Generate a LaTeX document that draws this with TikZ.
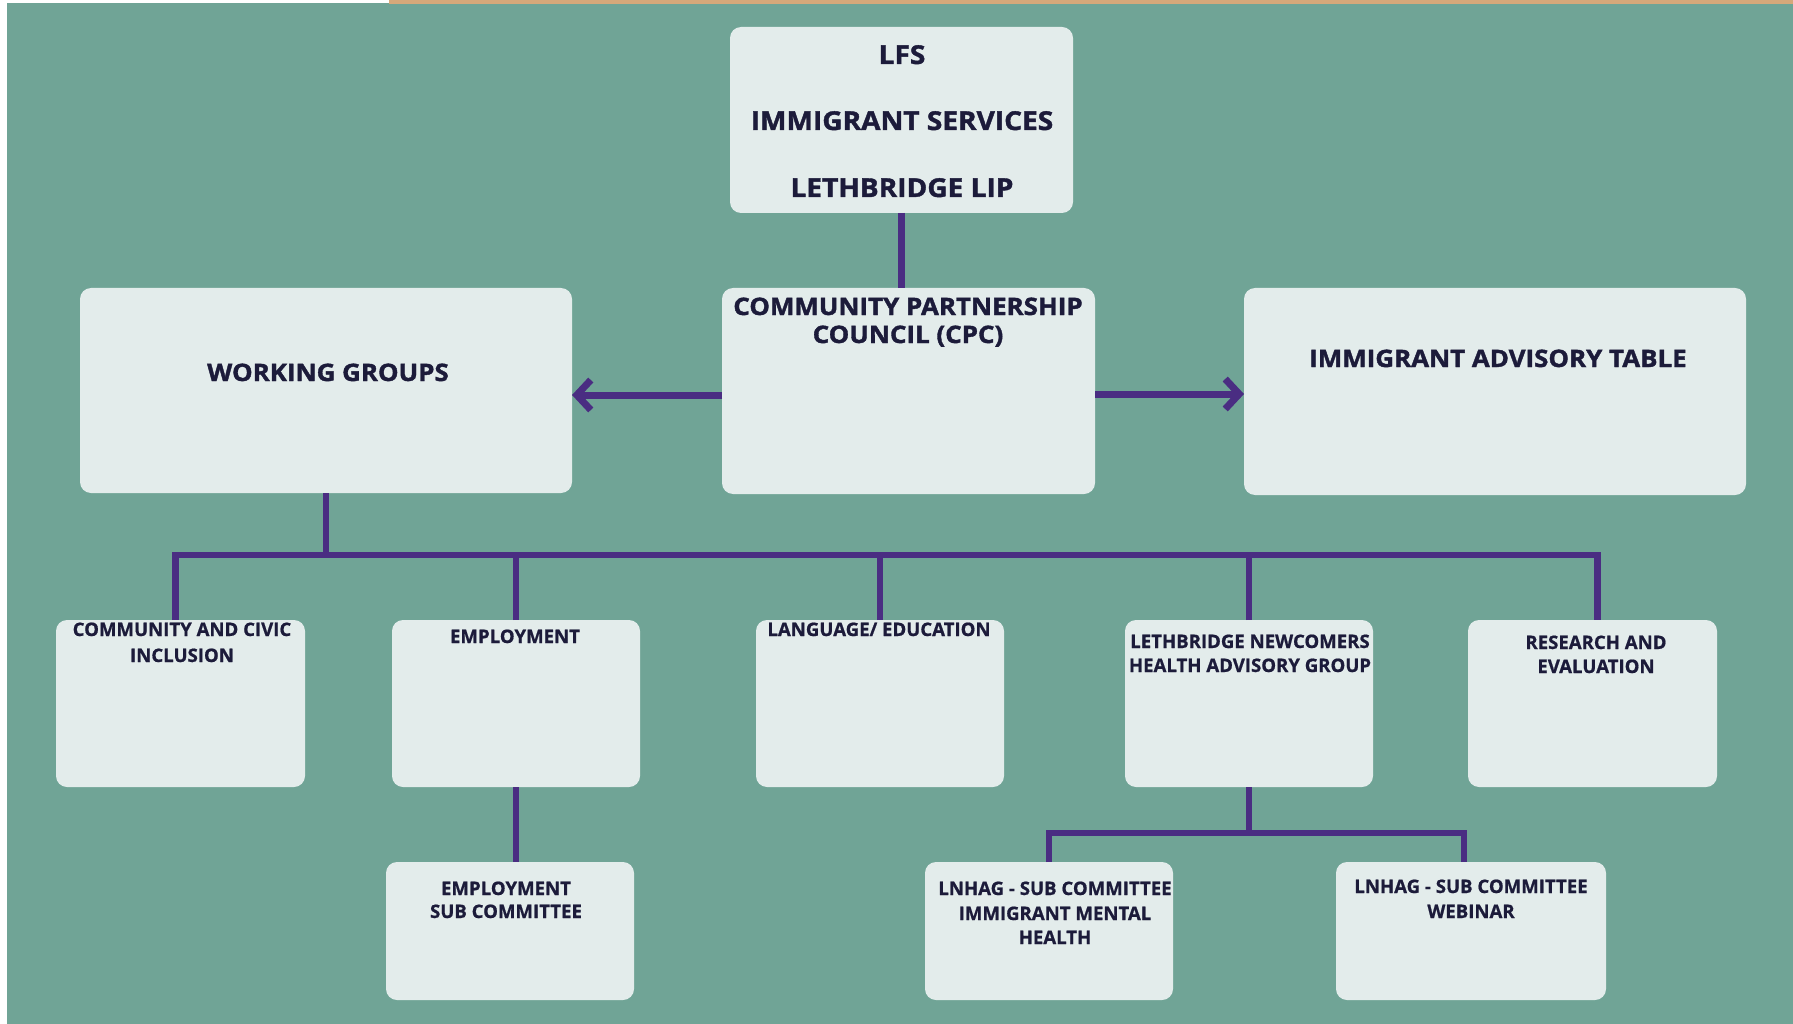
\documentclass[tikz,border=0pt]{standalone}
\usepackage{fontspec}
\setmainfont{Open Sans}
\newfontfamily\headf{Open Sans}[FakeStretch=1.08,FakeBold=1.5]
\newfontfamily\smallf{Open Sans}[FakeBold=0.8]
\usetikzlibrary{arrows.meta}
\definecolor{bggreen}{RGB}{112,164,150}
\definecolor{boxfill}{RGB}{227,236,235}
\definecolor{linepurple}{RGB}{74,45,130}
\definecolor{txtc}{RGB}{28,27,58}
\definecolor{topor}{RGB}{214,168,122}
\begin{document}
\begin{tikzpicture}[x=1pt,y=-1pt,
  box/.style={fill=boxfill, rounded corners=11pt, draw=none, inner sep=0pt, outer sep=0pt, anchor=north west},
  conn/.style={draw=linepurple, line width=6.5pt},
  arr/.style={conn, line width=7pt, -{Straight Barb[length=14pt,width=30pt]}},
  head/.style={font=\headf\bfseries\fontsize{26}{30}\selectfont, text=txtc, inner sep=0pt, anchor=base},
  mid/.style={font=\headf\bfseries\fontsize{24}{28}\selectfont, text=txtc, inner sep=0pt, anchor=base},
  small/.style={font=\smallf\bfseries\fontsize{18.6}{22}\selectfont, text=txtc, inner sep=0pt, anchor=base}]
\useasboundingbox (0,0) rectangle (1793,1024);
\fill[white] (0,0) rectangle (1793,1024);
\fill[bggreen] (7,3) rectangle (1793,1024);
\fill[topor] (389,0) rectangle (1793,4);

% boxes
\node[box, minimum width=343pt, minimum height=186pt] (lfs) at (730,27) {};
\node[box, minimum width=373pt, minimum height=206pt] (cpc) at (722,288) {};
\node[box, minimum width=492pt, minimum height=205pt] (wg) at (80,288) {};
\node[box, minimum width=502pt, minimum height=207pt] (iat) at (1244,288) {};
\node[box, minimum width=249pt, minimum height=167pt] (c1) at (56,620) {};
\node[box, minimum width=248pt, minimum height=167pt] (c2) at (392,620) {};
\node[box, minimum width=248pt, minimum height=167pt] (c3) at (756,620) {};
\node[box, minimum width=248pt, minimum height=167pt] (c4) at (1125,620) {};
\node[box, minimum width=249pt, minimum height=167pt] (c5) at (1468,620) {};
\node[box, minimum width=248pt, minimum height=138pt] (esub) at (386,862) {};
\node[box, minimum width=248pt, minimum height=138pt] (ment) at (925,862) {};
\node[box, minimum width=270pt, minimum height=138pt] (web) at (1336,862) {};

% texts
\node[head] (lfs1) at (902,64) {LFS};
\node[head] (lfs2) at (902,130) {IMMIGRANT SERVICES};
\node[head] (lfs3) at (902,197) {LETHBRIDGE LIP};
\node[mid] (cpc1) at (908,315) {COMMUNITY PARTNERSHIP};
\node[mid] (cpc2) at (908,343) {COUNCIL (CPC)};
\node[mid] (wgt) at (328,381) {WORKING GROUPS};
\node[mid] (iatt) at (1498,367) {IMMIGRANT ADVISORY TABLE};

\node[small] (c1a) at (182,636) {COMMUNITY AND CIVIC};
\node[small] (c1b) at (182,662) {INCLUSION};
\node[small] (c2a) at (515,643) {EMPLOYMENT};
\node[small] (c3a) at (879,636) {LANGUAGE/ EDUCATION};
\node[small] (c4a) at (1250,648) {LETHBRIDGE NEWCOMERS};
\node[small] (c4b) at (1250,672) {HEALTH ADVISORY GROUP};
\node[small] (c5a) at (1596,649) {RESEARCH AND};
\node[small] (c5b) at (1596,673) {EVALUATION};

\node[small] (es1) at (506,895) {EMPLOYMENT};
\node[small] (es2) at (506,918) {SUB COMMITTEE};
\node[small] (me1) at (1055,895) {LNHAG - SUB COMMITTEE};
\node[small] (me2) at (1055,920) {IMMIGRANT MENTAL};
\node[small] (me3) at (1055,944) {HEALTH};
\node[small] (we1) at (1471,893) {LNHAG - SUB COMMITTEE};
\node[small] (we2) at (1471,918) {WEBINAR};

% connectors
\draw[conn] (lfs.south) -- (lfs.south |- cpc.north);
\draw[arr] ([yshift=-4pt]cpc.west) -- ([yshift=-4pt]cpc.west -| wg.east);
\draw[arr] ([yshift=-3pt]cpc.east) -- ([yshift=-3pt]cpc.east -| iat.west);

\draw[conn] (wg.south) -- ++(0,62) coordinate (bar);
\draw[conn] ([xshift=-5pt]c1.north) -- ([xshift=-5pt]c1.north |- bar) -- ([xshift=5pt]c5.north |- bar) -- ([xshift=5pt]c5.north);
\draw[conn] (c2.north) -- (c2.north |- bar);
\draw[conn] (c3.north) -- (c3.north |- bar);
\draw[conn] (c4.north) -- (c4.north |- bar);

\draw[conn] (c2.south) -- (c2.south |- esub.north);
\draw[conn] (c4.south) -- ++(0,46) coordinate (bar2);
\draw[conn] (ment.north) -- (ment.north |- bar2) -- ([xshift=-7pt]web.north |- bar2) -- ([xshift=-7pt]web.north);
\end{tikzpicture}
\end{document}
